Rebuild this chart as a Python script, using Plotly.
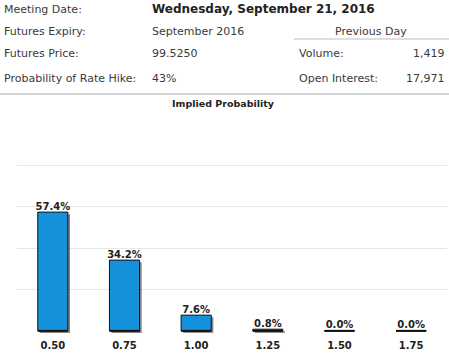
import plotly.graph_objects as go

# ---- data ----
rates = ["0.50", "0.75", "1.00", "1.25", "1.50", "1.75"]
probabilities = [57.4, 34.2, 7.6, 0.8, 0.0, 0.0]
prob_labels = ["57.4%", "34.2%", "7.6%", "0.8%", "0.0%", "0.0%"]

header_labels = ["Meeting Date:", "Futures Expiry:", "Futures Price:", "Probability of Rate Hike:"]
header_values = ["Wednesday, September 21, 2016", "September 2016", "99.5250", "43%"]
prev_day_title = "Previous Day"
prev_day_labels = ["Volume:", "Open Interest:"]
prev_day_values = ["1,419", "17,971"]
chart_title = "Implied Probability"

# ---- geometry helpers (pixel -> paper) ----
W, H = 449, 357
ML, MR, MT, MB = 17, 2, 124, 22
PW = W - ML - MR
PH = H - MT - MB


def px(x):
    return (x - ML) / PW


def py(y):
    return (H - MB - y) / PH


FONT = "DejaVu Sans, Verdana, sans-serif"
BAR_W = 0.42
BAR_PX = BAR_W * PW / len(rates)

fig = go.Figure()

# shadow
fig.add_trace(go.Bar(
    x=rates, y=probabilities, base=-1.0, width=BAR_W, offset=-BAR_W / 2 + 0.03,
    marker=dict(color="rgba(40,40,40,0.55)", line=dict(width=0)),
    hoverinfo="skip", showlegend=False,
))
# main bars
fig.add_trace(go.Bar(
    x=rates, y=probabilities, width=BAR_W, offset=-BAR_W / 2,
    marker=dict(color="#1591db", line=dict(color="#111111", width=1)),
    showlegend=False,
))
# baseline segments under each bar (visible for zero values)
fig.add_trace(go.Scatter(
    x=rates, y=[0 for _ in probabilities], mode="markers",
    marker=dict(symbol="line-ew", size=BAR_PX / 1.4, line=dict(color="#111111", width=2)),
    hoverinfo="skip", showlegend=False,
))
# value labels
fig.add_trace(go.Scatter(
    x=rates, y=probabilities, mode="text", text=prob_labels,
    textposition="top center",
    textfont=dict(family=FONT, size=10, color="#222222", weight="bold"),
    hoverinfo="skip", showlegend=False, cliponaxis=False,
))

annotations = []
label_color = "#3a3a3a"
row_y = [9, 31, 53, 78]
for lab, val, yy in zip(header_labels, header_values, row_y):
    annotations.append(dict(x=px(2), y=py(yy), xref="paper", yref="paper", text=lab,
                            showarrow=False, xanchor="left", yanchor="middle",
                            font=dict(family=FONT, size=11, color=label_color)))
    if lab == header_labels[0]:
        f = dict(family=FONT, size=12, color="#222222", weight="bold")
    else:
        f = dict(family=FONT, size=11, color=label_color)
    annotations.append(dict(x=px(150), y=py(yy), xref="paper", yref="paper", text=val,
                            showarrow=False, xanchor="left", yanchor="middle", font=f))

annotations.append(dict(x=px(371), y=py(31), xref="paper", yref="paper", text=prev_day_title,
                        showarrow=False, xanchor="center", yanchor="middle",
                        font=dict(family=FONT, size=11, color=label_color)))
for lab, val, yy in zip(prev_day_labels, prev_day_values, row_y[2:]):
    annotations.append(dict(x=px(297), y=py(yy), xref="paper", yref="paper", text=lab,
                            showarrow=False, xanchor="left", yanchor="middle",
                            font=dict(family=FONT, size=11, color=label_color)))
    annotations.append(dict(x=px(447), y=py(yy), xref="paper", yref="paper", text=val,
                            showarrow=False, xanchor="right", yanchor="middle",
                            font=dict(family=FONT, size=11, color=label_color)))

annotations.append(dict(x=px(223), y=py(103), xref="paper", yref="paper", text=chart_title,
                        showarrow=False, xanchor="center", yanchor="middle",
                        font=dict(family=FONT, size=9.5, color="#222222", weight="bold")))

shapes = [
    dict(type="line", xref="paper", yref="paper", x0=px(294), x1=px(449), y0=py(39), y1=py(39),
         line=dict(color="#bdbdbd", width=1)),
    dict(type="line", xref="paper", yref="paper", x0=px(0), x1=px(449), y0=py(94), y1=py(94),
         line=dict(color="#c4c4c4", width=1.5)),
]

fig.update_layout(
    width=W, height=H,
    margin=dict(l=ML, r=MR, t=MT, b=MB, pad=0),
    paper_bgcolor="white", plot_bgcolor="white",
    barmode="overlay",
    annotations=annotations, shapes=shapes,
    showlegend=False,
    xaxis=dict(type="category", range=[-0.5, len(rates) - 0.5],
               showgrid=False, showline=False, zeroline=False, ticks="",
               tickfont=dict(family=FONT, size=10, color="#222222", weight="bold"),
               ticklabelstandoff=3, fixedrange=True),
    yaxis=dict(range=[-2, 100], tickvals=[20, 40, 60, 80, 100], showticklabels=False,
               showgrid=True, gridcolor="#e6e6e6", gridwidth=1, zeroline=False,
               showline=False, fixedrange=True),
)

fig.write_html(
    "out.html",
    config={"displayModeBar": False},
    post_script="document.body.style.margin='0';document.body.style.padding='0';document.body.style.overflow='hidden';",
)
